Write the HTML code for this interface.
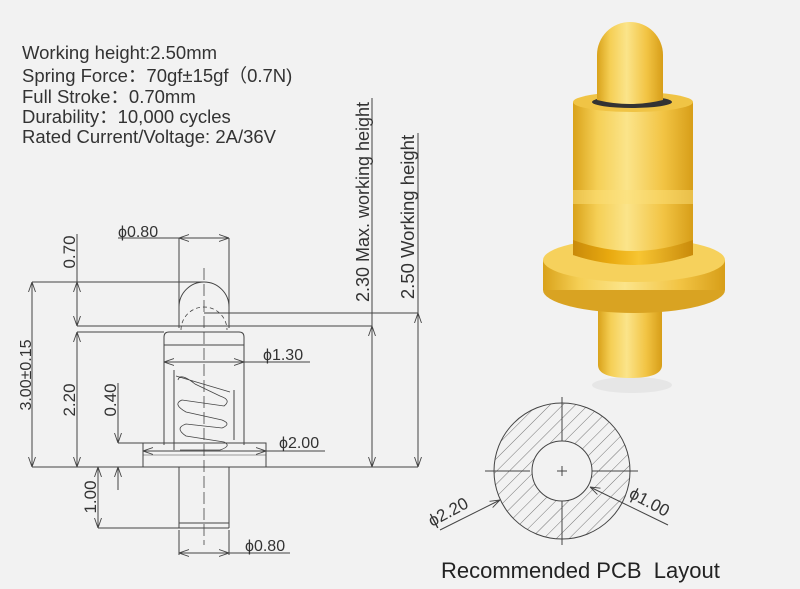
<!DOCTYPE html>
<html><head><meta charset="utf-8"><style>
html,body{margin:0;padding:0;background:#f2f2f2;}
svg{display:block}
</style></head><body>
<svg width="800" height="589" viewBox="0 0 800 589" xmlns="http://www.w3.org/2000/svg">
<defs>
<marker id="a" viewBox="0 0 10 10" refX="10" refY="5" markerWidth="10" markerHeight="10" markerUnits="userSpaceOnUse" orient="auto-start-reverse">
<path d="M0,1.5 L10,5 L0,8.5" fill="none" stroke="#444" stroke-width="0.9"/></marker>
<linearGradient id="g" x1="0" x2="1" y1="0" y2="0">
<stop offset="0" stop-color="#d9a21a"/><stop offset="0.2" stop-color="#f5cf55"/><stop offset="0.45" stop-color="#fbe48a"/><stop offset="0.75" stop-color="#f2c444"/><stop offset="1" stop-color="#d79e18"/></linearGradient>
<linearGradient id="g2" x1="0" x2="1" y1="0" y2="0">
<stop offset="0" stop-color="#c98a0a"/><stop offset="0.3" stop-color="#e8a90f"/><stop offset="0.55" stop-color="#f7c532"/><stop offset="1" stop-color="#c98a0a"/></linearGradient>
<pattern id="h" width="9" height="9" patternUnits="userSpaceOnUse" patternTransform="rotate(45)">
<line x1="0" y1="0" x2="0" y2="9" stroke="#555" stroke-width="0.8"/></pattern>
</defs>

<g font-family="Liberation Sans, sans-serif" font-size="18.5" fill="#333">
<text x="22" y="59">Working height:2.50mm</text>
<text x="22" y="82">Spring Force：70gf±15gf（0.7N)</text>
<text x="22" y="103">Full Stroke：0.70mm</text>
<text x="22" y="123">Durability：10,000 cycles</text>
<text x="22" y="143">Rated Current/Voltage: 2A/36V</text>
</g>

<!-- photo -->
<g>
<ellipse cx="632" cy="385" rx="40" ry="8" fill="#ddd" opacity="0.6"/>
<path d="M598,305 L598,365 Q598,378 630,378 Q662,378 662,365 L662,305 Z" fill="url(#g)"/>
<ellipse cx="634" cy="290" rx="91" ry="23" fill="#d9a322"/>
<rect x="543" y="260" width="182" height="30" fill="url(#g)"/>
<ellipse cx="634" cy="260" rx="91" ry="22" fill="#f6d15c"/>
<path d="M573,102 L573,255 Q633,275 693,255 L693,102 Z" fill="url(#g)"/>
<path d="M573,240 Q633,262 693,240 L693,255 Q633,275 573,255 Z" fill="url(#g2)"/>
<rect x="573" y="190" width="120" height="14" fill="#fbe07a" opacity="0.5"/>
<ellipse cx="633" cy="102" rx="60" ry="10" fill="#f0c445"/>
<ellipse cx="632" cy="102" rx="40" ry="6" fill="#333"/>
<path d="M597,100 L597,55 A33,33 0 0 1 663,55 L663,100 Q630,108 597,100 Z" fill="url(#g)"/>
</g>

<!-- drawing -->
<g fill="none" stroke="#444" stroke-width="1">
<line x1="204" y1="268" x2="204" y2="545" stroke-dasharray="12,4" stroke-width="0.8"/>
<path d="M179,328 L179,307 A25,25 0 0 1 229,307 L229,328"/>
<path d="M181,330 A23,23 0 0 1 227,330" stroke-dasharray="4,3" stroke-width="0.8"/>
<path d="M164,445 L164,337 Q164,332 169,332 L239,332 Q244,332 244,337 L244,445"/>
<line x1="164" y1="345" x2="244" y2="345"/>
<line x1="174" y1="370" x2="174" y2="450"/>
<line x1="234" y1="390" x2="234" y2="440"/>
<path d="M176,376 L230,392 M178,380 Q180,372 195,384 L220,396 Q232,400 224,406 L182,400 Q172,404 186,412 L222,420 Q232,424 222,428 L186,424 Q174,428 186,436 L224,442 Q232,446 220,450 L180,450" stroke-width="0.8"/>
<rect x="143" y="443" width="123" height="24"/>
<line x1="143" y1="455" x2="266" y2="455" stroke-width="0.6"/>
<path d="M179,467 L179,528 M229,467 L229,528 M179,523 L229,523"/>
<line x1="179" y1="238" x2="179" y2="307"/><line x1="229" y1="238" x2="229" y2="307"/>
<line x1="118" y1="238" x2="179" y2="238"/>
<line x1="179" y1="238" x2="229" y2="238" marker-start="url(#a)" marker-end="url(#a)"/>
<line x1="32" y1="282" x2="204" y2="282"/>
<line x1="77" y1="326" x2="372" y2="326"/>
<line x1="204" y1="313" x2="418" y2="313"/>
<line x1="77" y1="332" x2="164" y2="332"/>
<line x1="32" y1="467" x2="418" y2="467"/>
<line x1="118" y1="443" x2="143" y2="443"/>
<line x1="98" y1="528" x2="229" y2="528"/>
<line x1="32" y1="282" x2="32" y2="467" marker-start="url(#a)" marker-end="url(#a)"/>
<line x1="77" y1="234" x2="77" y2="326" />
<line x1="77" y1="282" x2="77" y2="326" marker-start="url(#a)" marker-end="url(#a)"/>
<line x1="77" y1="332" x2="77" y2="467" marker-start="url(#a)" marker-end="url(#a)"/>
<line x1="118" y1="383" x2="118" y2="443" marker-end="url(#a)"/>
<line x1="118" y1="490" x2="118" y2="467" marker-end="url(#a)"/>
<line x1="98" y1="467" x2="98" y2="528" marker-start="url(#a)" marker-end="url(#a)"/>
<line x1="372" y1="98" x2="372" y2="326"/>
<line x1="372" y1="326" x2="372" y2="467" marker-start="url(#a)" marker-end="url(#a)"/>
<line x1="418" y1="133" x2="418" y2="313"/>
<line x1="418" y1="313" x2="418" y2="467" marker-start="url(#a)" marker-end="url(#a)"/>
<line x1="164" y1="362" x2="244" y2="362" marker-start="url(#a)" marker-end="url(#a)"/>
<line x1="244" y1="362" x2="310" y2="362"/>
<line x1="143" y1="451" x2="266" y2="451" marker-start="url(#a)" marker-end="url(#a)"/>
<line x1="266" y1="451" x2="325" y2="451"/>
<line x1="179" y1="530" x2="179" y2="555"/><line x1="229" y1="530" x2="229" y2="555"/>
<line x1="179" y1="553" x2="229" y2="553" marker-start="url(#a)" marker-end="url(#a)"/>
<line x1="229" y1="553" x2="290" y2="553"/>
</g>
<g font-family="Liberation Sans, sans-serif" font-size="16" fill="#333">
<text x="118" y="237">ϕ0.80</text>
<text x="263" y="360">ϕ1.30</text>
<text x="279" y="448">ϕ2.00</text>
<text x="245" y="551">ϕ0.80</text>
<text transform="translate(31,375) rotate(-90)" text-anchor="middle" font-size="16">3.00±0.15</text>
<text transform="translate(75,252) rotate(-90)" text-anchor="middle" font-size="17">0.70</text>
<text transform="translate(75,400) rotate(-90)" text-anchor="middle" font-size="17">2.20</text>
<text transform="translate(116,400) rotate(-90)" text-anchor="middle" font-size="17">0.40</text>
<text transform="translate(96,497) rotate(-90)" text-anchor="middle" font-size="17">1.00</text>
<text transform="translate(369,202) rotate(-90)" text-anchor="middle" font-size="18">2.30 Max. working height</text>
<text transform="translate(414,217) rotate(-90)" text-anchor="middle" font-size="18.5">2.50 Working height</text>
</g>

<g stroke="#444" stroke-width="1">
<circle cx="562" cy="471" r="68" fill="url(#h)"/>
<circle cx="562" cy="471" r="30" fill="#f2f2f2"/>
<line x1="485" y1="471" x2="530" y2="471"/><line x1="592" y1="471" x2="638" y2="471"/>
<line x1="557" y1="471" x2="567" y2="471"/><line x1="562" y1="466" x2="562" y2="476"/>
<line x1="562" y1="397" x2="562" y2="441"/><line x1="562" y1="501" x2="562" y2="545"/>
<line x1="440" y1="530" x2="500" y2="500" marker-end="url(#a)" fill="none"/>
<line x1="668" y1="525" x2="590" y2="487" marker-end="url(#a)" fill="none"/>
</g>
<g font-family="Liberation Sans, sans-serif" font-size="17" fill="#333">
<text transform="translate(432,527) rotate(-28)">ϕ2.20</text>
<text transform="translate(628,497) rotate(28)">ϕ1.00</text>
</g>
<text x="441" y="578" font-family="Liberation Sans, sans-serif" font-size="22" fill="#222" xml:space="preserve">Recommended PCB  Layout</text>
</svg>
</body></html>
